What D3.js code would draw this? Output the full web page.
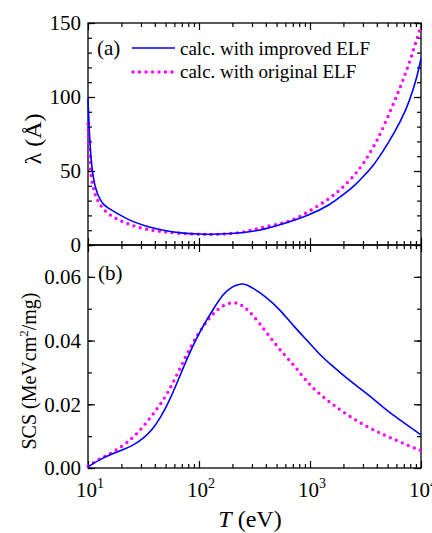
<!DOCTYPE html>
<html>
<head>
<meta charset="utf-8">
<script src="https://cdn.jsdelivr.net/npm/d3@7"></script>
<style>
  body { margin: 0; background: #fff; }
  svg text { font-family: 'Liberation Serif', 'Times New Roman', serif; fill: #000; }
</style>
</head>
<body>
<div id="chart"></div>
<script>
// top panel: inelastic mean free path lambda (Angstrom)
const tLamImproved = [10, 10.4, 11.1, 12.4, 14, 16.3, 23.1, 32.6, 46, 70, 100, 150, 250, 350, 537, 1000, 1500, 2000, 2600, 3000, 3700, 4300, 5700, 7440, 8500, 9300, 10000];
const lamImproved  = [99, 66, 44, 32, 26.5, 23.6, 16.9, 12.8, 10.1, 7.9, 7.3, 7.2, 8.2, 9.8, 13.5, 20.3, 27, 34, 41, 46, 53.5, 60.5, 75, 92, 105, 115, 126];
const tLamOriginal = [10, 10.2, 10.6, 11.5, 12.4, 14.2, 17.5, 23.1, 32.6, 46, 65, 100, 150, 250, 353, 537, 707, 1000, 1510, 2000, 2630, 3030, 3720, 4300, 5260, 6300, 7440, 8500, 9700, 10000];
const lamOriginal  = [82, 64, 46, 34, 29, 22.5, 18, 14, 10.6, 9, 7.9, 7.2, 7.0, 8.3, 11.7, 14.2, 16.9, 23, 31.5, 39, 49, 55, 66, 75, 90, 104, 118, 131, 145, 148];

// bottom panel: stopping cross section
const tScsImproved = [10, 14, 19, 26, 32, 38, 45, 53, 62, 75, 100, 130, 165, 200, 235, 270, 306, 400, 534, 700, 1000, 1230, 1620, 2000, 3240, 4500, 6400, 10000];
const scsImproved  = [0.0004, 0.0035, 0.0052, 0.0072, 0.0095, 0.012, 0.0158, 0.0205, 0.0258, 0.033, 0.0425, 0.049, 0.0548, 0.057, 0.0579, 0.0576, 0.0565, 0.0538, 0.0498, 0.0448, 0.0391, 0.0355, 0.0318, 0.029, 0.0234, 0.0192, 0.0151, 0.0104];
const tScsOriginal = [10, 12.4, 14, 18.7, 26.5, 37.5, 53, 72, 100, 144, 195, 230, 270, 353, 500, 700, 870, 1034, 1320, 1650, 2290, 3240, 4590, 6400, 9150, 10000];
const scsOriginal  = [0.0006, 0.0027, 0.0035, 0.0059, 0.0098, 0.0163, 0.0234, 0.0336, 0.043, 0.0501, 0.0522, 0.0516, 0.0501, 0.0454, 0.0382, 0.0327, 0.0285, 0.0255, 0.0222, 0.0196, 0.0161, 0.013, 0.0104, 0.0083, 0.0059, 0.0055];

const xMajor = [10, 100, 1000, 10000];
const xMinor = [];
[10, 100, 1000].forEach(d => { for (let k = 2; k <= 9; k++) xMinor.push(d * k); });
const xExp = ["1", "2", "3", "4"];
const lamMajor = [0, 50, 100, 150];
const lamMinor = d3.range(0, 151, 10);
const scsMajor = [0, 0.02, 0.04, 0.06];
const scsMinor = d3.range(0, 0.0701, 0.01);

const legendLabels = ["calc. with improved ELF", "calc. with original ELF"];

const W = 432, H = 533;
const left = 88, right = 421, top1 = 23, mid = 245, bot2 = 468;
const majorLen = 7, minorLen = 4;
const serif = "'Liberation Serif', 'Times New Roman', serif";

const svg = d3.select("#chart").append("svg")
    .attr("width", W)
    .attr("height", H)
    .style("font-family", serif);

const x = d3.scaleLog().domain([10, 10000]).range([left, right]);
const y1 = d3.scaleLinear().domain([0, 150]).range([mid, top1]);
const y2 = d3.scaleLinear().domain([0, 0.07]).range([bot2, mid]);

function frame(yScale, yMaj, yMin, yFmt, yTop, yBot) {
    const g = svg.append("g");
    // left
    g.append("g").attr("transform", "translate(" + left + ",0)")
        .call(d3.axisLeft(yScale).tickValues(yMin).tickSize(-minorLen).tickFormat(""));
    g.append("g").attr("class", "ylab").attr("transform", "translate(" + left + ",0)")
        .call(d3.axisLeft(yScale).tickValues(yMaj).tickSize(-majorLen).tickPadding(7).tickFormat(yFmt));
    // right
    g.append("g").attr("transform", "translate(" + right + ",0)")
        .call(d3.axisRight(yScale).tickValues(yMin).tickSize(-minorLen).tickFormat(""));
    g.append("g").attr("transform", "translate(" + right + ",0)")
        .call(d3.axisRight(yScale).tickValues(yMaj).tickSize(-majorLen).tickFormat(""));
    // top
    g.append("g").attr("transform", "translate(0," + yTop + ")")
        .call(d3.axisTop(x).tickValues(xMinor).tickSize(-minorLen).tickFormat(""));
    g.append("g").attr("transform", "translate(0," + yTop + ")")
        .call(d3.axisTop(x).tickValues(xMajor).tickSize(-majorLen).tickFormat(""));
    // bottom
    g.append("g").attr("transform", "translate(0," + yBot + ")")
        .call(d3.axisBottom(x).tickValues(xMinor).tickSize(-minorLen).tickFormat(""));
    g.append("g").attr("transform", "translate(0," + yBot + ")")
        .call(d3.axisBottom(x).tickValues(xMajor).tickSize(-majorLen).tickFormat(""));
    g.selectAll(".domain").remove();
    g.selectAll("g").attr("font-family", null).attr("font-size", null);
    g.selectAll(".tick line").attr("stroke", "#000").attr("stroke-width", 1.2);
    g.selectAll(".ylab text")
        .style("font-family", serif)
        .style("font-size", "21px")
        .attr("fill", "#000");
    g.append("rect")
        .attr("x", left).attr("y", yTop)
        .attr("width", right - left).attr("height", yBot - yTop)
        .attr("fill", "none").attr("stroke", "#000").attr("stroke-width", 1.3);
}

frame(y1, lamMajor, lamMinor, d3.format("d"), top1, mid);
frame(y2, scsMajor, scsMinor, d3.format(".2f"), mid, bot2);

function txt(sel) {
    return sel.style("font-family", serif);
}

// x tick labels as 10^n
xMajor.forEach((t, i) => {
    const tx = txt(svg.append("text"))
        .attr("x", x(t) + 2)
        .attr("y", 497)
        .attr("text-anchor", "middle")
        .style("font-size", "21px");
    tx.append("tspan").text("10");
    tx.append("tspan").attr("dy", -9).style("font-size", "14px").text(xExp[i]);
});

// curves
const blue = "#0000ff", magenta = "#ff00ff";
function drawLine(ts, vs, yScale, dotted) {
    const pts = ts.map((t, i) => [t, vs[i]]);
    const line = d3.line()
        .x(d => x(d[0]))
        .y(d => yScale(d[1]))
        .curve(d3.curveBasis);
    const p = svg.append("path")
        .datum(pts)
        .attr("d", line)
        .attr("fill", "none");
    if (dotted) {
        p.attr("stroke", magenta).attr("stroke-width", 3.4)
            .attr("stroke-linecap", "round").attr("stroke-dasharray", "0 6.5");
    } else {
        p.attr("stroke", blue).attr("stroke-width", 1.6);
    }
}

drawLine(tLamOriginal, lamOriginal, y1, true);
drawLine(tLamImproved, lamImproved, y1, false);
drawLine(tScsOriginal, scsOriginal, y2, true);
drawLine(tScsImproved, scsImproved, y2, false);

// panel labels
txt(svg.append("text")).attr("x", 97).attr("y", 55).style("font-size", "21px").text("(a)");
txt(svg.append("text")).attr("x", 98).attr("y", 280).style("font-size", "21px").text("(b)");

// legend
svg.append("line").attr("x1", 132).attr("x2", 175).attr("y1", 48).attr("y2", 48)
    .attr("stroke", blue).attr("stroke-width", 1.6);
svg.append("line").attr("x1", 133).attr("x2", 175).attr("y1", 72).attr("y2", 72)
    .attr("stroke", magenta).attr("stroke-width", 3.4)
    .attr("stroke-linecap", "round").attr("stroke-dasharray", "0 6.5");
txt(svg.append("text")).attr("x", 180).attr("y", 55).style("font-size", "19px").text(legendLabels[0]);
txt(svg.append("text")).attr("x", 180).attr("y", 78).style("font-size", "19px").text(legendLabels[1]);

// axis titles
txt(svg.append("text"))
    .attr("transform", "translate(41,139) rotate(-90)")
    .attr("text-anchor", "middle")
    .style("font-size", "24px")
    .text("λ (Å)");

const scs = txt(svg.append("text"))
    .attr("transform", "translate(36,371) rotate(-90)")
    .attr("text-anchor", "middle")
    .style("font-size", "20px");
scs.append("tspan").text("SCS (MeVcm");
scs.append("tspan").attr("dy", -8).style("font-size", "13px").text("2");
scs.append("tspan").attr("dy", 8).text("/mg)");

const tl = txt(svg.append("text"))
    .attr("x", 250).attr("y", 527)
    .attr("text-anchor", "middle")
    .style("font-size", "24px");
tl.append("tspan").style("font-style", "italic").text("T");
tl.append("tspan").text(" (eV)");
</script>
</body>
</html>
